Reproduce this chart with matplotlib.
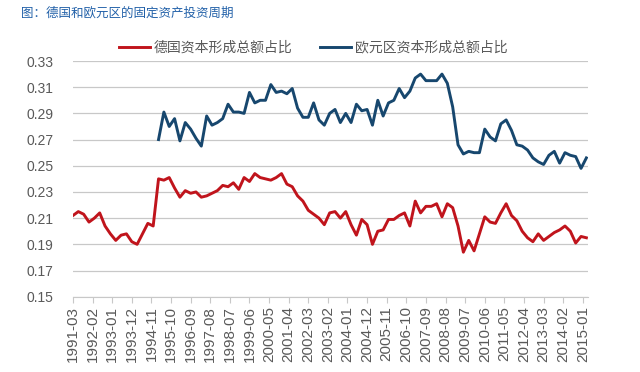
import numpy as np
import matplotlib.pyplot as plt

plt.rcParams['font.family'] = ['Liberation Sans', 'Noto Sans CJK SC', 'DejaVu Sans']

# ---------------------------------------------------------
# Datos (trimestrales, desde 1991-03)
# ---------------------------------------------------------
tick_labels = ['1991-03', '1992-02', '1993-01', '1993-12', '1994-11', '1995-10',
               '1996-09', '1997-08', '1998-07', '1999-06', '2000-05', '2001-04',
               '2002-03', '2003-02', '2004-01', '2004-12', '2005-11', '2006-10',
               '2007-09', '2008-08', '2009-07', '2010-06', '2011-05', '2012-04',
               '2013-03', '2014-02', '2015-01']

germany = [0.212, 0.215, 0.213, 0.207, 0.210, 0.214, 0.204, 0.198, 0.193, 0.197,
           0.198, 0.192, 0.190, 0.198, 0.206, 0.204, 0.240, 0.239, 0.241, 0.233,
           0.226, 0.231, 0.229, 0.230, 0.226, 0.227, 0.229, 0.231, 0.235, 0.234,
           0.237, 0.232, 0.241, 0.238, 0.244, 0.241, 0.240, 0.239, 0.241, 0.244,
           0.236, 0.234, 0.227, 0.223, 0.216, 0.213, 0.210, 0.205, 0.214, 0.215,
           0.210, 0.215, 0.205, 0.197, 0.209, 0.205, 0.190, 0.200, 0.201, 0.209,
           0.209, 0.212, 0.214, 0.204, 0.223, 0.214, 0.219, 0.219, 0.221, 0.211,
           0.221, 0.218, 0.204, 0.184, 0.193, 0.185, 0.198, 0.211, 0.207, 0.206,
           0.214, 0.221, 0.212, 0.208, 0.200, 0.195, 0.192, 0.198, 0.193, 0.196,
           0.199, 0.201, 0.204, 0.200, 0.191, 0.196, 0.195]

# Eurozona empieza en 1995-03 (trimestre 16)
euro_start = 16
euro = [0.270, 0.291, 0.280, 0.286, 0.269, 0.283, 0.278, 0.271, 0.265, 0.288,
        0.281, 0.283, 0.286, 0.297, 0.291, 0.291, 0.290, 0.306, 0.298, 0.300,
        0.300, 0.312, 0.306, 0.307, 0.305, 0.309, 0.294, 0.287, 0.287, 0.298,
        0.285, 0.281, 0.290, 0.293, 0.283, 0.290, 0.283, 0.297, 0.292, 0.293,
        0.281, 0.300, 0.288, 0.298, 0.300, 0.309, 0.302, 0.307, 0.317, 0.320,
        0.315, 0.315, 0.315, 0.320, 0.313, 0.295, 0.266, 0.259, 0.261, 0.260,
        0.260, 0.278, 0.272, 0.269, 0.282, 0.285, 0.277, 0.266, 0.265, 0.262,
        0.256, 0.253, 0.251, 0.258, 0.261, 0.252, 0.260, 0.258, 0.257, 0.248,
        0.256]

# eje x en meses desde 1991-03
x_de = np.arange(len(germany)) * 3
x_eu = (np.arange(len(euro)) + euro_start) * 3
x_ticks = np.arange(len(tick_labels)) * 11

# ---------------------------------------------------------
# Gráfico
# ---------------------------------------------------------
fig = plt.figure(figsize=(6.4, 3.72), dpi=100)
ax = fig.add_axes([0.114, 0.2024, 0.805, 0.6336])

ax.plot(x_de, germany, color='#C0141C', linewidth=2.1, label='德国资本形成总额占比')
ax.plot(x_eu, euro, color='#17476E', linewidth=2.1, label='欧元区资本形成总额占比')

ax.set_ylim(0.15, 0.33)
ax.set_yticks(np.arange(0.15, 0.3301, 0.02))
ax.set_yticklabels([f'{v:.2f}' for v in np.arange(0.15, 0.3301, 0.02)])
ax.set_xlim(0, 289)
ax.set_xticks(x_ticks)
ax.set_xticklabels(tick_labels, rotation=90)

ax.grid(axis='y', color='#C8C8C8', linewidth=0.9)
ax.set_axisbelow(True)
for s in ['top', 'right', 'left']:
    ax.spines[s].set_visible(False)
ax.spines['bottom'].set_color('#C8C8C8')
ax.tick_params(axis='y', length=0, pad=14, labelsize=10, labelcolor='#595959')
ax.tick_params(axis='x', length=4, color='#C8C8C8', pad=3, labelsize=11,
               labelcolor='#595959')

leg = ax.legend(loc='lower left', bbox_to_anchor=(0.065, 0.975), ncol=2, frameon=False,
                prop={'family': ['Noto Sans CJK SC'], 'size': 10},
                handlelength=2.2, columnspacing=2.0, handletextpad=0.3)
for t in leg.get_texts():
    t.set_color('#595959')

fig.text(0.033, 0.965, '图：德国和欧元区的固定资产投资周期', color='#2160A8',
         fontsize=9, style='italic', family=['Noto Sans CJK SC'], va='center')

fig.savefig('out.png', dpi=100)
